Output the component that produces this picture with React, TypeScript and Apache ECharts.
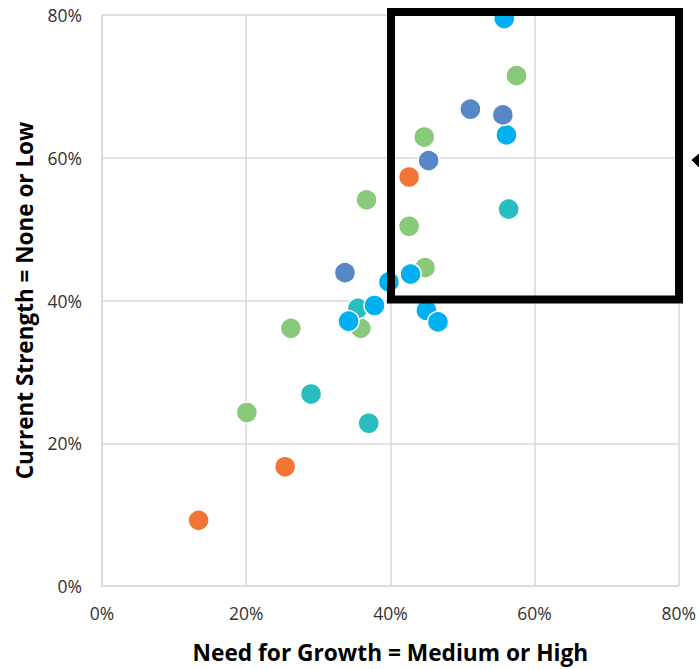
import React, { useEffect, useRef } from "react";
import * as echarts from "echarts";

const xTicks = [0, 20, 40, 60, 80];
const yTicks = [0, 20, 40, 60, 80];

const orangePts: [number, number][] = [
  [13.4, 9.2],
  [25.4, 16.7],
  [42.6, 57.3],
];
const greenPts: [number, number][] = [
  [20.1, 24.3],
  [26.2, 36.1],
  [36.7, 54.1],
  [35.9, 36.1],
  [44.7, 62.9],
  [42.6, 50.4],
  [44.8, 44.6],
  [57.5, 71.5],
];
const tealPts: [number, number][] = [
  [29.0, 26.9],
  [37.0, 22.8],
  [56.4, 52.8],
  [35.5, 38.9],
];
const lightBluePts: [number, number][] = [
  [55.8, 79.5],
  [56.1, 63.2],
  [42.8, 43.7],
  [39.8, 42.6],
  [37.8, 39.3],
  [34.2, 37.1],
  [45.0, 38.6],
  [46.6, 37.0],
];
const midBluePts: [number, number][] = [
  [33.7, 43.9],
  [45.3, 59.6],
  [51.1, 66.8],
  [55.6, 66.0],
];

const xTitle = "Need for Growth = Medium or High";
const yTitle = "Current Strength = None or Low";

const FONT = "'Open Sans', sans-serif";

export default function App() {
  const ref = useRef<HTMLDivElement>(null);
  useEffect(() => {
    if (!ref.current) return;
    const chart = echarts.init(ref.current, null, { renderer: "svg" });
    const mk = (name: string, data: [number, number][], color: string) => ({
      name,
      type: "scatter",
      data,
      symbolSize: 21,
      itemStyle: { color, borderColor: "#ffffff", borderWidth: 1.5, opacity: 1 },
      emphasis: { disabled: true },
    });
    chart.setOption({
      animation: false,
      grid: { left: 102, right: 20, top: 15, bottom: 80, containLabel: false },
      xAxis: {
        type: "value",
        min: xTicks[0],
        max: xTicks[xTicks.length - 1],
        interval: 20,
        name: xTitle,
        nameLocation: "middle",
        nameGap: 55,
        nameTextStyle: { fontFamily: FONT, fontWeight: "bold", fontSize: 22.7, color: "#000" },
        axisLine: { show: true, lineStyle: { color: "#d9d9d9", width: 1.5 } },
        axisTick: { show: false },
        splitLine: { show: true, lineStyle: { color: "#d9d9d9", width: 1.5 } },
        axisLabel: {
          fontFamily: FONT,
          fontSize: 17.5,
          color: "#333",
          margin: 18,
          formatter: (v: number) => `${v}%`,
        },
      },
      yAxis: {
        type: "value",
        min: yTicks[0],
        max: yTicks[yTicks.length - 1],
        interval: 20,
        name: yTitle,
        nameLocation: "middle",
        nameGap: 66.5,
        nameTextStyle: { fontFamily: FONT, fontWeight: "bold", fontSize: 22.5, color: "#000" },
        axisLine: { show: true, lineStyle: { color: "#d9d9d9", width: 1.5 } },
        axisTick: { show: false },
        splitLine: { show: true, lineStyle: { color: "#d9d9d9", width: 1.5 } },
        axisLabel: {
          fontFamily: FONT,
          fontSize: 17.5,
          color: "#333",
          margin: 20,
          formatter: (v: number) => `${v}%`,
        },
      },
      series: [
        mk("Orange", orangePts, "#F37535"),
        mk("Green", greenPts, "#88C97A"),
        mk("Teal", tealPts, "#28BDBE"),
        mk("Light blue", lightBluePts, "#00B0F0"),
        mk("Blue", midBluePts, "#5887C7"),
      ],
      graphic: [
        {
          type: "rect",
          z: 100,
          shape: { x: 391, y: 12, width: 288, height: 287.5 },
          style: { fill: "none", stroke: "#000", lineWidth: 8 },
        },
        {
          type: "polygon",
          z: 100,
          shape: { points: [[692, 160], [699, 154], [699, 167]] },
          style: { fill: "#000", stroke: "#000", lineWidth: 1 },
        },
      ],
    });
    return () => chart.dispose();
  }, []);
  return (
    <div
      style={{
        position: "fixed",
        left: 0,
        top: 0,
        width: 699,
        height: 669,
        overflow: "hidden",
        background: "#fff",
      }}
    >
      <div ref={ref} style={{ width: 699, height: 669 }} />
    </div>
  );
}
